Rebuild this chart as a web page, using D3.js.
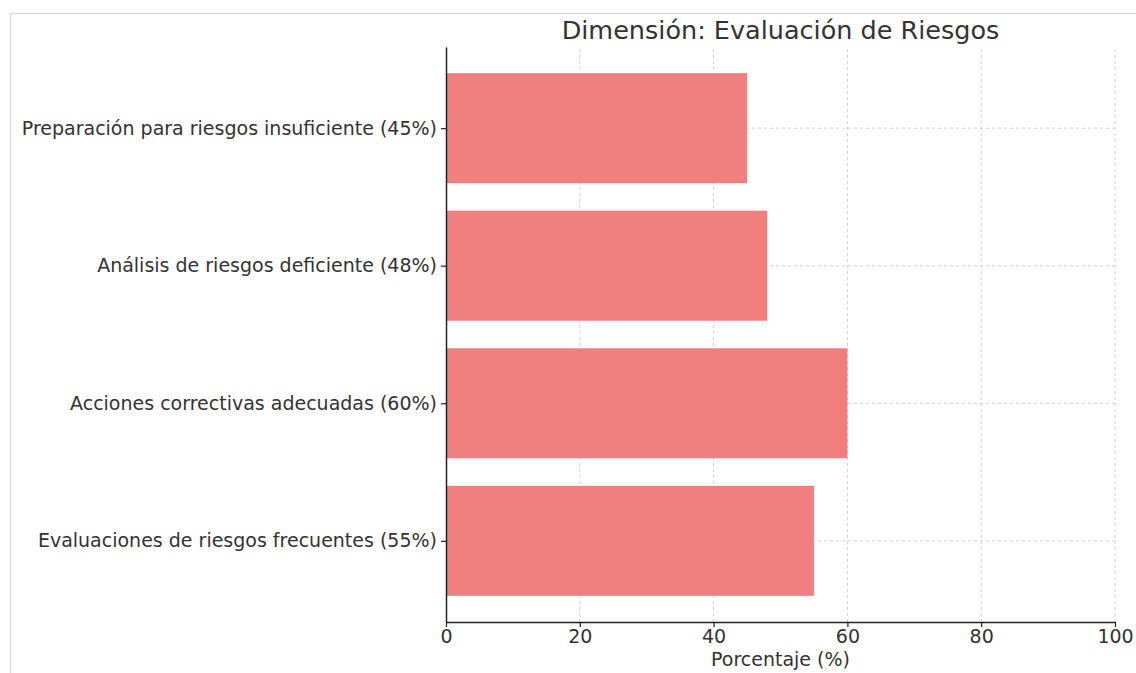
<!DOCTYPE html>
<html>
<head>
<meta charset="utf-8">
<script src="https://cdn.jsdelivr.net/npm/d3@7"></script>
<style>
  body { margin: 0; background: #fff; }
  svg { font-family: "DejaVu Sans", sans-serif; }
</style>
</head>
<body>
<div id="chart"></div>
<script>
// data (bottom to top, like the original barh)
var categories = [
    "Evaluaciones de riesgos frecuentes (55%)",
    "Acciones correctivas adecuadas (60%)",
    "Análisis de riesgos deficiente (48%)",
    "Preparación para riesgos insuficiente (45%)"
];
var values = [55, 60, 48, 45];
var xTicks = [0, 20, 40, 60, 80, 100];

var W = 1136, H = 673;
var margin = {top: 47, right: 21, bottom: 51, left: 446};

var svg = d3.select("#chart").append("svg")
    .attr("width", W)
    .attr("height", H);

// screenshot frame
svg.append("path")
    .attr("d", "M10.5,673 L10.5,13.5 L1136,13.5")
    .attr("fill", "none")
    .attr("stroke", "#dcdcdc")
    .attr("stroke-width", 1.5);

var x = d3.scaleLinear()
    .domain([0, 100])
    .range([margin.left, W - margin.right]);

// index scale, bar half height = 0.4, plus 5% margin each side
var y = d3.scaleLinear()
    .domain([-0.59, categories.length - 1 + 0.59])
    .range([H - margin.bottom, margin.top]);

var data = categories.map(function(c, i) { return {name: c, value: values[i], i: i}; });

// grid
var grid = svg.append("g");
grid.selectAll(".vg")
    .data(xTicks.slice(1))
    .enter().append("line")
    .attr("x1", function(d) { return x(d); })
    .attr("x2", function(d) { return x(d); })
    .attr("y1", y.range()[0])
    .attr("y2", y.range()[1])
    .attr("stroke", "#d0d0d0")
    .attr("stroke-dasharray", "3,3");
grid.selectAll(".hg")
    .data(data)
    .enter().append("line")
    .attr("x1", x(0))
    .attr("x2", x(100))
    .attr("y1", function(d) { return y(d.i); })
    .attr("y2", function(d) { return y(d.i); })
    .attr("stroke", "#d0d0d0")
    .attr("stroke-dasharray", "3,3");

// bars
svg.selectAll(".bar")
    .data(data)
    .enter().append("rect")
    .attr("x", x(0))
    .attr("y", function(d) { return y(d.i + 0.4); })
    .attr("width", function(d) { return x(d.value) - x(0); })
    .attr("height", function(d) { return y(d.i - 0.4) - y(d.i + 0.4); })
    .attr("fill", "#f08080");

// x axis
var xAxis = svg.append("g")
    .attr("transform", "translate(0," + y.range()[0] + ")")
    .call(d3.axisBottom(x).tickValues(xTicks).tickSize(5).tickPadding(3).tickSizeOuter(0));
xAxis.select(".domain").attr("stroke", "#222").attr("stroke-width", 1.5);
xAxis.selectAll(".tick line").attr("stroke", "#222").attr("stroke-width", 1.2);
xAxis.selectAll("text").attr("font-size", 19).attr("fill", "#333")
    .attr("font-family", "DejaVu Sans");

// y axis
var yAxis = svg.append("g")
    .attr("transform", "translate(" + x(0) + ",0)")
    .call(d3.axisLeft(y)
        .tickValues(data.map(function(d) { return d.i; }))
        .tickFormat(function(i) { return categories[i]; })
        .tickSize(5).tickPadding(4).tickSizeOuter(0));
yAxis.select(".domain").attr("stroke", "#222").attr("stroke-width", 1.5);
yAxis.selectAll(".tick line").attr("stroke", "#222").attr("stroke-width", 1.2);
yAxis.selectAll("text").attr("font-size", 19).attr("fill", "#333")
    .attr("font-family", "DejaVu Sans");

// title and label
svg.append("text")
    .attr("x", (x(0) + x(100)) / 2)
    .attr("y", 39)
    .attr("text-anchor", "middle")
    .attr("font-size", 25.5)
    .attr("fill", "#333")
    .text("Dimensión: Evaluación de Riesgos");

svg.append("text")
    .attr("x", (x(0) + x(100)) / 2)
    .attr("y", 666)
    .attr("text-anchor", "middle")
    .attr("font-size", 19)
    .attr("fill", "#333")
    .text("Porcentaje (%)");
</script>
</body>
</html>
